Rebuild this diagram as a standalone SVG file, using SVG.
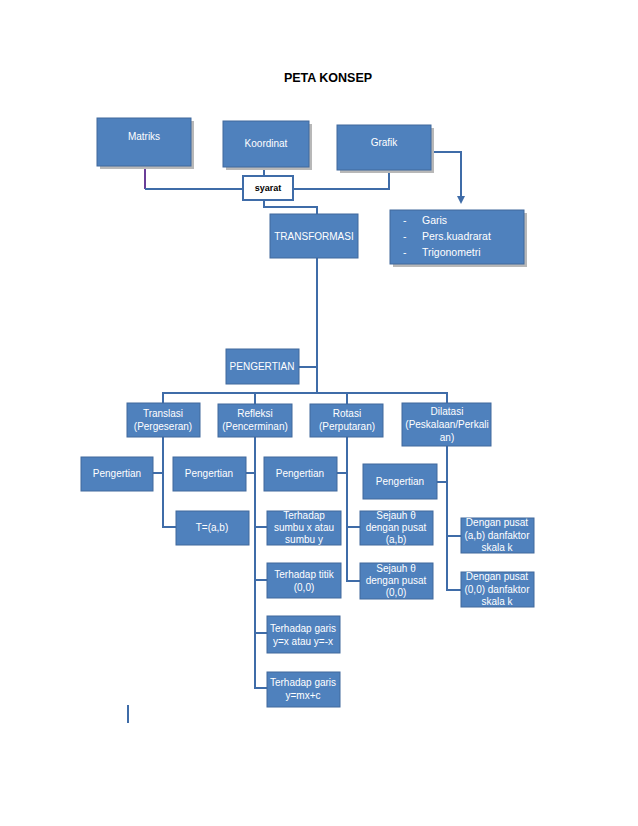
<svg xmlns="http://www.w3.org/2000/svg" width="638" height="826" viewBox="0 0 638 826">
<style>
.b{fill:#4F81BD;stroke:#41699C;stroke-width:1}
.sh{fill:#B8B8B8}
.t{font-family:"Liberation Sans",Arial,sans-serif;font-size:10px;fill:#FFFFFF;text-anchor:middle}
.c{fill:none;stroke:#3F6CA8;stroke-width:2}
</style>
<defs>
<marker id="ah" markerWidth="8" markerHeight="8" refX="4" refY="4" orient="auto" markerUnits="userSpaceOnUse">
<path d="M0,0 L8,4 L0,8 Z" fill="#3F6CA8"/>
</marker>
</defs>
<rect width="638" height="826" fill="#FFFFFF"/>
<text x="328" y="82" font-family="Liberation Sans,Arial,sans-serif" font-size="12.5" font-weight="bold" text-anchor="middle" fill="#000">PETA KONSEP</text>

<g id="connectors">
<path d="M145,166 V189" stroke="#6A3E98" stroke-width="2" fill="none"/>
<path d="M145,189 H243" class="c" stroke="#5B5AA0"/>
<path d="M264,167 V176" class="c"/>
<path d="M293,189 H389 V170" class="c"/>
<path d="M264,200 V207 H317 V214" class="c"/>
<path d="M431,152 H461 V200" class="c" stroke-width="1.5" marker-end="url(#ah)"/>
<path d="M317,258 V393" class="c"/>
<path d="M299,367 H317" class="c"/>
<path d="M163,403 V393 H447 V403" class="c"/>
<path d="M255,393 V404" class="c"/>
<path d="M347,393 V404" class="c"/>
<path d="M163,437 V527 H176" class="c"/>
<path d="M153,473 H163" class="c"/>
<path d="M255,437 V688 H267" class="c"/>
<path d="M246,473 H255" class="c"/>
<path d="M255,527 H267" class="c"/>
<path d="M255,580 H267" class="c"/>
<path d="M255,633 H267" class="c"/>
<path d="M347,437 V581 H360" class="c"/>
<path d="M337,473 H347" class="c"/>
<path d="M347,527 H360" class="c"/>
<path d="M447,446 V590 H461" class="c"/>
<path d="M437,482 H447" class="c"/>
<path d="M447,536 H461" class="c"/>
<path d="M128,705 V723" class="c" stroke="#5B83BC" stroke-width="2.5"/>
</g>

<g id="matriks">
<rect class="sh" x="100" y="121" width="94" height="48"/>
<rect class="b" x="97" y="118" width="94" height="48"/>
<text class="t" x="144" y="140">Matriks</text>
</g>
<g id="koordinat">
<rect class="sh" x="226" y="124" width="86" height="46"/>
<rect class="b" x="223" y="121" width="86" height="46"/>
<text class="t" x="266" y="147">Koordinat</text>
</g>
<g id="grafik">
<rect class="sh" x="340" y="128" width="94" height="45"/>
<rect class="b" x="337" y="125" width="94" height="45"/>
<text class="t" x="384" y="146">Grafik</text>
</g>
<g id="syarat">
<rect x="243" y="176" width="50" height="24" fill="#FFFFFF" stroke="#3F6CA8" stroke-width="2"/>
<text x="268" y="191" font-family="Liberation Sans,Arial,sans-serif" font-size="9" font-weight="bold" text-anchor="middle" fill="#000">syarat</text>
</g>
<g id="grafik-list">
<rect class="sh" x="393" y="213" width="134" height="54"/>
<rect class="b" x="390" y="210" width="134" height="54"/>
<text class="t" x="403" y="224" text-anchor="start" style="text-anchor:start;font-size:10.5px">-</text>
<text class="t" x="422" y="224" style="text-anchor:start;font-size:10.5px">Garis</text>
<text class="t" x="403" y="240" style="text-anchor:start;font-size:10.5px">-</text>
<text class="t" x="422" y="240" style="text-anchor:start;font-size:10.5px">Pers.kuadrarat</text>
<text class="t" x="403" y="256" style="text-anchor:start;font-size:10.5px">-</text>
<text class="t" x="422" y="256" style="text-anchor:start;font-size:10.5px">Trigonometri</text>
</g>
<g id="transformasi">
<rect class="b" x="270" y="214" width="88" height="44"/>
<text class="t" x="314" y="240">TRANSFORMASI</text>
</g>
<g id="pengertian-main">
<rect class="b" x="226" y="349" width="73" height="35"/>
<text class="t" x="262" y="370">PENGERTIAN</text>
</g>
<g id="translasi">
<rect class="b" x="127" y="403" width="73" height="34"/>
<text class="t" x="163" y="417">Translasi</text>
<text class="t" x="163" y="430">(Pergeseran)</text>
</g>
<g id="refleksi">
<rect class="b" x="218" y="404" width="74" height="33"/>
<text class="t" x="255" y="417">Refleksi</text>
<text class="t" x="255" y="430">(Pencerminan)</text>
</g>
<g id="rotasi">
<rect class="b" x="310" y="404" width="73" height="33"/>
<text class="t" x="347" y="417">Rotasi</text>
<text class="t" x="347" y="430">(Perputaran)</text>
</g>
<g id="dilatasi">
<rect class="b" x="402" y="403" width="89" height="43"/>
<text class="t" x="447" y="415">Dilatasi</text>
<text class="t" x="447" y="428">(Peskalaan/Perkali</text>
<text class="t" x="447" y="441">an)</text>
</g>
<g id="pengertian-translasi">
<rect class="b" x="81" y="457" width="72" height="34"/>
<text class="t" x="117" y="477">Pengertian</text>
</g>
<g id="pengertian-refleksi">
<rect class="b" x="173" y="457" width="73" height="34"/>
<text class="t" x="209" y="477">Pengertian</text>
</g>
<g id="t-ab">
<rect class="b" x="176" y="511" width="73" height="34"/>
<text class="t" x="212" y="531">T=(a,b)</text>
</g>
<g id="pengertian-rotasi">
<rect class="b" x="264" y="457" width="73" height="34"/>
<text class="t" x="300" y="477">Pengertian</text>
</g>
<g id="pengertian-dilatasi">
<rect class="b" x="363" y="464" width="74" height="35"/>
<text class="t" x="400" y="485">Pengertian</text>
</g>
<g id="refleksi-sumbu">
<rect class="b" x="267" y="511" width="74" height="34"/>
<text class="t" x="304" y="519">Terhadap</text>
<text class="t" x="304" y="531">sumbu x atau</text>
<text class="t" x="304" y="543">sumbu y</text>
</g>
<g id="refleksi-titik">
<rect class="b" x="267" y="563" width="74" height="35"/>
<text class="t" x="304" y="578">Terhadap titik</text>
<text class="t" x="304" y="591">(0,0)</text>
</g>
<g id="refleksi-garis-yx">
<rect class="b" x="267" y="616" width="73" height="37"/>
<text class="t" x="303" y="632">Terhadap garis</text>
<text class="t" x="303" y="645">y=x atau y=-x</text>
</g>
<g id="refleksi-garis-mx">
<rect class="b" x="267" y="672" width="73" height="35"/>
<text class="t" x="303" y="686">Terhadap garis</text>
<text class="t" x="303" y="699">y=mx+c</text>
</g>
<g id="rotasi-ab">
<rect class="b" x="360" y="511" width="73" height="34"/>
<text class="t" x="396" y="519">Sejauh θ</text>
<text class="t" x="396" y="531">dengan pusat</text>
<text class="t" x="396" y="543">(a,b)</text>
</g>
<g id="rotasi-00">
<rect class="b" x="360" y="563" width="73" height="36"/>
<text class="t" x="396" y="572">Sejauh θ</text>
<text class="t" x="396" y="584">dengan pusat</text>
<text class="t" x="396" y="596">(0,0)</text>
</g>
<g id="dilatasi-ab">
<rect class="b" x="461" y="518" width="73" height="35"/>
<text class="t" x="497" y="526">Dengan pusat</text>
<text class="t" x="497" y="539">(a,b) danfaktor</text>
<text class="t" x="497" y="551">skala k</text>
</g>
<g id="dilatasi-00">
<rect class="b" x="461" y="572" width="73" height="35"/>
<text class="t" x="497" y="580">Dengan pusat</text>
<text class="t" x="497" y="593">(0,0) danfaktor</text>
<text class="t" x="497" y="605">skala k</text>
</g>
</svg>
